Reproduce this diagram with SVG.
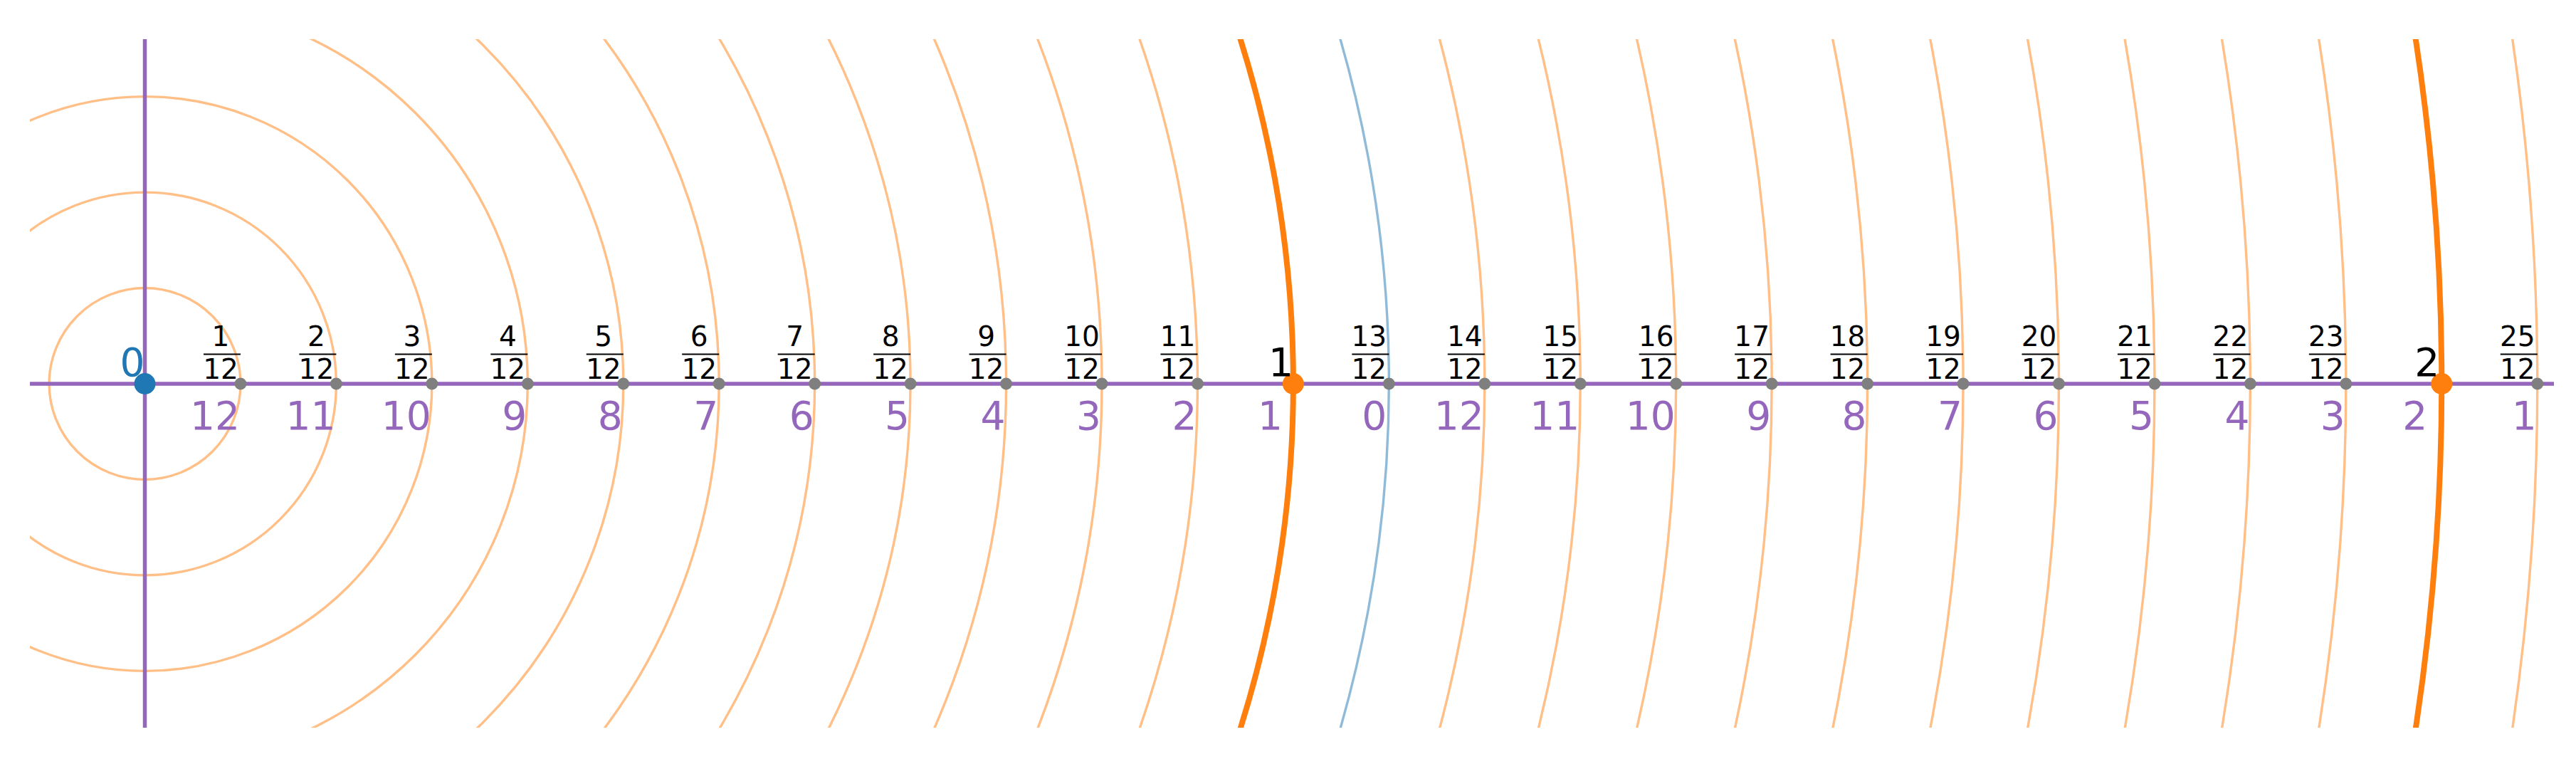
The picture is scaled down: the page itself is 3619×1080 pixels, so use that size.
<svg xmlns="http://www.w3.org/2000/svg" width="3619" height="1080" viewBox="0 0 3619 1080">
<style>
.c{fill:none;stroke:#ffbf86;stroke-width:3.4}
.cb{fill:none;stroke:#ff7f0e;stroke-width:8}
.cl{fill:none;stroke:#8fbbd9;stroke-width:3.4}
.ax{stroke:#9467bd;stroke-width:5.5}
.gd{fill:#7f7f7f}
.num{font-family:"DejaVu Sans","Liberation Sans",sans-serif;font-size:39px;fill:#000;text-anchor:middle}
.bar{stroke:#000;stroke-width:2}
.big{font-family:"DejaVu Sans","Liberation Sans",sans-serif;font-size:55px;text-anchor:end}
.lo{font-family:"DejaVu Sans","Liberation Sans",sans-serif;font-size:55px;text-anchor:end;fill:#9467bd}
</style>
<defs>
<clipPath id="clip"><rect x="42" y="55" width="3546" height="967"/></clipPath>
</defs>
<rect width="3619" height="1080" fill="#fff"/>
<g id="circles" clip-path="url(#clip)">
<circle class="c" cx="203.5" cy="539" r="134.45"/>
<circle class="c" cx="203.5" cy="539" r="268.9"/>
<circle class="c" cx="203.5" cy="539" r="403.35"/>
<circle class="c" cx="203.5" cy="539" r="537.8"/>
<circle class="c" cx="203.5" cy="539" r="672.25"/>
<circle class="c" cx="203.5" cy="539" r="806.7"/>
<circle class="c" cx="203.5" cy="539" r="941.15"/>
<circle class="c" cx="203.5" cy="539" r="1075.6"/>
<circle class="c" cx="203.5" cy="539" r="1210.05"/>
<circle class="c" cx="203.5" cy="539" r="1344.5"/>
<circle class="c" cx="203.5" cy="539" r="1478.95"/>
<circle class="cb" cx="203.5" cy="539" r="1613.4"/>
<circle class="cl" cx="203.5" cy="539" r="1747.85"/>
<circle class="c" cx="203.5" cy="539" r="1882.3"/>
<circle class="c" cx="203.5" cy="539" r="2016.75"/>
<circle class="c" cx="203.5" cy="539" r="2151.2"/>
<circle class="c" cx="203.5" cy="539" r="2285.65"/>
<circle class="c" cx="203.5" cy="539" r="2420.1"/>
<circle class="c" cx="203.5" cy="539" r="2554.55"/>
<circle class="c" cx="203.5" cy="539" r="2689"/>
<circle class="c" cx="203.5" cy="539" r="2823.45"/>
<circle class="c" cx="203.5" cy="539" r="2957.9"/>
<circle class="c" cx="203.5" cy="539" r="3092.35"/>
<circle class="cb" cx="203.5" cy="539" r="3226.8"/>
<circle class="c" cx="203.5" cy="539" r="3361.25"/>
</g>
<g id="connectors">
<line class="ax" x1="42" y1="539" x2="3588" y2="539"/>
<line class="ax" x1="203.5" y1="55" x2="203.5" y2="1022"/>
</g>
<g id="p0" transform="translate(203.5 0)"><circle cx="0" cy="539" r="15" fill="#1f77b4"/><text class="big" x="0" y="528" fill="#1f77b4">0</text></g>
<g id="p1" transform="translate(337.95 0)"><circle class="gd" cx="0" cy="539" r="8.5"/><text class="num" x="-28" y="486">1</text><line class="bar" x1="-52" y1="497.5" x2="0" y2="497.5"/><text class="num" x="-28" y="531.5">12</text><text class="lo" x="-1" y="603">12</text></g>
<g id="p2" transform="translate(472.4 0)"><circle class="gd" cx="0" cy="539" r="8.5"/><text class="num" x="-28" y="486">2</text><line class="bar" x1="-52" y1="497.5" x2="0" y2="497.5"/><text class="num" x="-28" y="531.5">12</text><text class="lo" x="-1" y="603">11</text></g>
<g id="p3" transform="translate(606.85 0)"><circle class="gd" cx="0" cy="539" r="8.5"/><text class="num" x="-28" y="486">3</text><line class="bar" x1="-52" y1="497.5" x2="0" y2="497.5"/><text class="num" x="-28" y="531.5">12</text><text class="lo" x="-1" y="603">10</text></g>
<g id="p4" transform="translate(741.3 0)"><circle class="gd" cx="0" cy="539" r="8.5"/><text class="num" x="-28" y="486">4</text><line class="bar" x1="-52" y1="497.5" x2="0" y2="497.5"/><text class="num" x="-28" y="531.5">12</text><text class="lo" x="-1" y="603">9</text></g>
<g id="p5" transform="translate(875.75 0)"><circle class="gd" cx="0" cy="539" r="8.5"/><text class="num" x="-28" y="486">5</text><line class="bar" x1="-52" y1="497.5" x2="0" y2="497.5"/><text class="num" x="-28" y="531.5">12</text><text class="lo" x="-1" y="603">8</text></g>
<g id="p6" transform="translate(1010.2 0)"><circle class="gd" cx="0" cy="539" r="8.5"/><text class="num" x="-28" y="486">6</text><line class="bar" x1="-52" y1="497.5" x2="0" y2="497.5"/><text class="num" x="-28" y="531.5">12</text><text class="lo" x="-1" y="603">7</text></g>
<g id="p7" transform="translate(1144.65 0)"><circle class="gd" cx="0" cy="539" r="8.5"/><text class="num" x="-28" y="486">7</text><line class="bar" x1="-52" y1="497.5" x2="0" y2="497.5"/><text class="num" x="-28" y="531.5">12</text><text class="lo" x="-1" y="603">6</text></g>
<g id="p8" transform="translate(1279.1 0)"><circle class="gd" cx="0" cy="539" r="8.5"/><text class="num" x="-28" y="486">8</text><line class="bar" x1="-52" y1="497.5" x2="0" y2="497.5"/><text class="num" x="-28" y="531.5">12</text><text class="lo" x="-1" y="603">5</text></g>
<g id="p9" transform="translate(1413.55 0)"><circle class="gd" cx="0" cy="539" r="8.5"/><text class="num" x="-28" y="486">9</text><line class="bar" x1="-52" y1="497.5" x2="0" y2="497.5"/><text class="num" x="-28" y="531.5">12</text><text class="lo" x="-1" y="603">4</text></g>
<g id="p10" transform="translate(1548 0)"><circle class="gd" cx="0" cy="539" r="8.5"/><text class="num" x="-28" y="486">10</text><line class="bar" x1="-52" y1="497.5" x2="0" y2="497.5"/><text class="num" x="-28" y="531.5">12</text><text class="lo" x="-1" y="603">3</text></g>
<g id="p11" transform="translate(1682.45 0)"><circle class="gd" cx="0" cy="539" r="8.5"/><text class="num" x="-28" y="486">11</text><line class="bar" x1="-52" y1="497.5" x2="0" y2="497.5"/><text class="num" x="-28" y="531.5">12</text><text class="lo" x="-1" y="603">2</text></g>
<g id="p12" transform="translate(1816.9 0)"><circle cx="0" cy="539" r="15" fill="#ff7f0e"/><text class="big" x="0" y="528" fill="#000">1</text><text class="lo" x="-15" y="603">1</text></g>
<g id="p13" transform="translate(1951.35 0)"><circle class="gd" cx="0" cy="539" r="8.5"/><text class="num" x="-28" y="486">13</text><line class="bar" x1="-52" y1="497.5" x2="0" y2="497.5"/><text class="num" x="-28" y="531.5">12</text><text class="lo" x="-3" y="603">0</text></g>
<g id="p14" transform="translate(2085.8 0)"><circle class="gd" cx="0" cy="539" r="8.5"/><text class="num" x="-28" y="486">14</text><line class="bar" x1="-52" y1="497.5" x2="0" y2="497.5"/><text class="num" x="-28" y="531.5">12</text><text class="lo" x="-1" y="603">12</text></g>
<g id="p15" transform="translate(2220.25 0)"><circle class="gd" cx="0" cy="539" r="8.5"/><text class="num" x="-28" y="486">15</text><line class="bar" x1="-52" y1="497.5" x2="0" y2="497.5"/><text class="num" x="-28" y="531.5">12</text><text class="lo" x="-1" y="603">11</text></g>
<g id="p16" transform="translate(2354.7 0)"><circle class="gd" cx="0" cy="539" r="8.5"/><text class="num" x="-28" y="486">16</text><line class="bar" x1="-52" y1="497.5" x2="0" y2="497.5"/><text class="num" x="-28" y="531.5">12</text><text class="lo" x="-1" y="603">10</text></g>
<g id="p17" transform="translate(2489.15 0)"><circle class="gd" cx="0" cy="539" r="8.5"/><text class="num" x="-28" y="486">17</text><line class="bar" x1="-52" y1="497.5" x2="0" y2="497.5"/><text class="num" x="-28" y="531.5">12</text><text class="lo" x="-1" y="603">9</text></g>
<g id="p18" transform="translate(2623.6 0)"><circle class="gd" cx="0" cy="539" r="8.5"/><text class="num" x="-28" y="486">18</text><line class="bar" x1="-52" y1="497.5" x2="0" y2="497.5"/><text class="num" x="-28" y="531.5">12</text><text class="lo" x="-1" y="603">8</text></g>
<g id="p19" transform="translate(2758.05 0)"><circle class="gd" cx="0" cy="539" r="8.5"/><text class="num" x="-28" y="486">19</text><line class="bar" x1="-52" y1="497.5" x2="0" y2="497.5"/><text class="num" x="-28" y="531.5">12</text><text class="lo" x="-1" y="603">7</text></g>
<g id="p20" transform="translate(2892.5 0)"><circle class="gd" cx="0" cy="539" r="8.5"/><text class="num" x="-28" y="486">20</text><line class="bar" x1="-52" y1="497.5" x2="0" y2="497.5"/><text class="num" x="-28" y="531.5">12</text><text class="lo" x="-1" y="603">6</text></g>
<g id="p21" transform="translate(3026.95 0)"><circle class="gd" cx="0" cy="539" r="8.5"/><text class="num" x="-28" y="486">21</text><line class="bar" x1="-52" y1="497.5" x2="0" y2="497.5"/><text class="num" x="-28" y="531.5">12</text><text class="lo" x="-1" y="603">5</text></g>
<g id="p22" transform="translate(3161.4 0)"><circle class="gd" cx="0" cy="539" r="8.5"/><text class="num" x="-28" y="486">22</text><line class="bar" x1="-52" y1="497.5" x2="0" y2="497.5"/><text class="num" x="-28" y="531.5">12</text><text class="lo" x="-1" y="603">4</text></g>
<g id="p23" transform="translate(3295.85 0)"><circle class="gd" cx="0" cy="539" r="8.5"/><text class="num" x="-28" y="486">23</text><line class="bar" x1="-52" y1="497.5" x2="0" y2="497.5"/><text class="num" x="-28" y="531.5">12</text><text class="lo" x="-1" y="603">3</text></g>
<g id="p24" transform="translate(3430.3 0)"><circle cx="0" cy="539" r="15" fill="#ff7f0e"/><text class="big" x="-3" y="528" fill="#000">2</text><text class="lo" x="-20" y="603">2</text></g>
<g id="p25" transform="translate(3564.75 0)"><circle class="gd" cx="0" cy="539" r="8.5"/><text class="num" x="-28" y="486">25</text><line class="bar" x1="-52" y1="497.5" x2="0" y2="497.5"/><text class="num" x="-28" y="531.5">12</text><text class="lo" x="-1" y="603">1</text></g>
</svg>
